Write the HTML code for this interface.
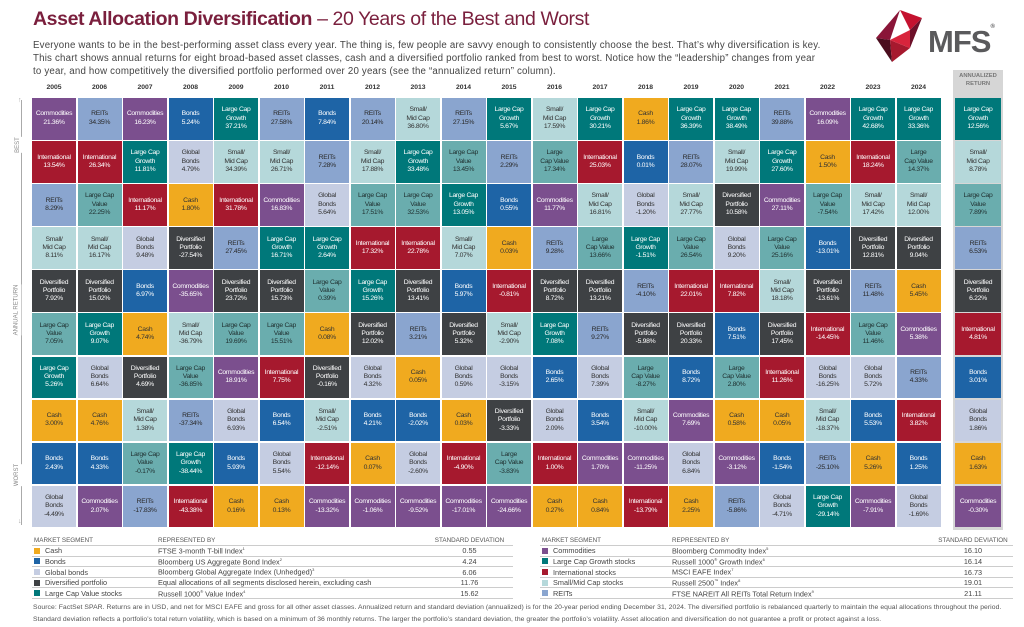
<!DOCTYPE html>
<html><head><meta charset="utf-8"><style>
*{margin:0;padding:0;box-sizing:border-box}
body{width:1024px;height:627px;background:#fff;position:relative;overflow:hidden;font-family:"Liberation Sans",sans-serif;color:#333}
.t{position:absolute;left:33px;top:8px;font-size:19.5px;color:#7a1f3d;letter-spacing:-0.4px}
.t b{font-weight:bold}
.intro{position:absolute;left:33px;top:39px;font-size:9.7px;line-height:13px;color:#444;letter-spacing:0.2px;white-space:nowrap}
.mfs{position:absolute;left:928px;top:24px;font-size:31px;font-weight:bold;color:#5a5a5c;letter-spacing:-1px}
.yr{position:absolute;top:84px;left:32px;display:grid;grid-template-columns:repeat(20,44px);column-gap:1.5px;font-size:6.8px;font-weight:bold;text-align:center;color:#333}
.g{position:absolute;left:32px;top:98px;display:grid;grid-template-columns:repeat(20,44px);grid-template-rows:repeat(10,41.5px);grid-auto-flow:column;gap:1.6px 1.5px}
.g i,.an i{font-style:normal;display:flex;align-items:center;justify-content:center;text-align:center;font-size:6.8px;line-height:8.3px;letter-spacing:-0.3px}
.cm{background:#7b4f8e;color:#fff}.re{background:#8aa5cf;color:#2a2a2a}.in{background:#a6192e;color:#fff}
.lg{background:#00787a;color:#fff}.lv{background:#6aadae;color:#1f2f2f}.gb{background:#c5cde2;color:#333}
.sm{background:#b5d8da;color:#333}.ca{background:#f0aa1f;color:#333}.bo{background:#1e64a6;color:#fff}.dv{background:#3e4144;color:#fff}
.anb{position:absolute;left:953px;top:70px;width:50px;height:460px;background:#d6d6d6}
.anh{position:absolute;left:953px;top:72px;width:50px;font-size:5.8px;font-weight:bold;text-align:center;color:#777;line-height:8px}
.an{position:absolute;left:955px;top:98px;display:grid;grid-template-columns:46px;grid-template-rows:repeat(10,41.5px);gap:1.6px}
.ax{position:absolute;left:21px;top:100px;width:1px;height:425px;background:#aaa}
.axl{position:absolute;font-size:6px;color:#888;transform:rotate(-90deg);transform-origin:center;background:#fff;padding:2px 0;white-space:nowrap}
.lt{position:absolute;top:535px;font-size:7.3px;color:#444;border-collapse:collapse}
.lt td{padding:0 2px;height:10.6px;border-bottom:0.6px solid #ccc;white-space:nowrap}
.lt tr:first-child td{font-size:6.3px;color:#555}
.lt td.v{text-align:center}
.sq{display:inline-block;width:6px;height:6px;margin-right:5px;vertical-align:-0.5px}
.fn{position:absolute;left:33px;top:602px;font-size:6.8px;line-height:12px;color:#555;letter-spacing:0.05px;white-space:nowrap}
</style></head><body>
<div class="t"><b>Asset Allocation Diversification</b> – 20 Years of the Best and Worst</div>
<div class="intro">Everyone wants to be in the best-performing asset class every year. The thing is, few people are savvy enough to consistently choose the best. That’s why diversification is key.<br>This chart shows annual returns for eight broad-based asset classes, cash and a diversified portfolio ranked from best to worst. Notice how the “leadership” changes from year<br>to year, and how competitively the diversified portfolio performed over 20 years (see the “annualized return” column).</div>
<svg style="position:absolute;left:870px;top:10px" width="56" height="52" viewBox="0 0 56 52"><polygon points="30,0 52,8 40,20" fill="#c4122f"/><polygon points="30,0 6,28 20,30" fill="#8a1538"/><polygon points="6,28 22,52 20,30" fill="#4a0d1e"/><polygon points="20,30 22,52 40,38" fill="#a6192e"/><polygon points="40,20 52,8 40,38" fill="#6d1029"/><polygon points="20,30 40,20 40,38" fill="#d8243c"/></svg>
<div class="mfs">MFS<span style="font-size:6px;vertical-align:top">®</span></div>
<div class="yr"><span>2005</span><span>2006</span><span>2007</span><span>2008</span><span>2009</span><span>2010</span><span>2011</span><span>2012</span><span>2013</span><span>2014</span><span>2015</span><span>2016</span><span>2017</span><span>2018</span><span>2019</span><span>2020</span><span>2021</span><span>2022</span><span>2023</span><span>2024</span></div>
<div class="ax"></div>
<div style="position:absolute;left:18px;top:97px;font-size:7px;color:#aaa">↑</div>
<div style="position:absolute;left:18px;top:518px;font-size:7px;color:#aaa">↓</div>
<div class="axl" style="left:10px;top:140px">BEST</div>
<div class="axl" style="left:-9px;top:305px">ANNUAL RETURN</div>
<div class="axl" style="left:6px;top:470px">WORST</div>
<div class="anb"></div>
<div class="anh">ANNUALIZED<br>RETURN</div>
<div class="g">
<i class="cm">Commodities<br>21.36%</i><i class="in">International<br>13.54%</i><i class="re">REITs<br>8.29%</i><i class="sm">Small/<br>Mid Cap<br>8.11%</i><i class="dv">Diversified<br>Portfolio<br>7.92%</i><i class="lv">Large Cap<br>Value<br>7.05%</i><i class="lg">Large Cap<br>Growth<br>5.26%</i><i class="ca">Cash<br>3.00%</i><i class="bo">Bonds<br>2.43%</i><i class="gb">Global<br>Bonds<br>-4.49%</i>
<i class="re">REITs<br>34.35%</i><i class="in">International<br>26.34%</i><i class="lv">Large Cap<br>Value<br>22.25%</i><i class="sm">Small/<br>Mid Cap<br>16.17%</i><i class="dv">Diversified<br>Portfolio<br>15.02%</i><i class="lg">Large Cap<br>Growth<br>9.07%</i><i class="gb">Global<br>Bonds<br>6.64%</i><i class="ca">Cash<br>4.76%</i><i class="bo">Bonds<br>4.33%</i><i class="cm">Commodities<br>2.07%</i>
<i class="cm">Commodities<br>16.23%</i><i class="lg">Large Cap<br>Growth<br>11.81%</i><i class="in">International<br>11.17%</i><i class="gb">Global<br>Bonds<br>9.48%</i><i class="bo">Bonds<br>6.97%</i><i class="ca">Cash<br>4.74%</i><i class="dv">Diversified<br>Portfolio<br>4.69%</i><i class="sm">Small/<br>Mid Cap<br>1.38%</i><i class="lv">Large Cap<br>Value<br>-0.17%</i><i class="re">REITs<br>-17.83%</i>
<i class="bo">Bonds<br>5.24%</i><i class="gb">Global<br>Bonds<br>4.79%</i><i class="ca">Cash<br>1.80%</i><i class="dv">Diversified<br>Portfolio<br>-27.54%</i><i class="cm">Commodities<br>-35.65%</i><i class="sm">Small/<br>Mid Cap<br>-36.79%</i><i class="lv">Large Cap<br>Value<br>-36.85%</i><i class="re">REITs<br>-37.34%</i><i class="lg">Large Cap<br>Growth<br>-38.44%</i><i class="in">International<br>-43.38%</i>
<i class="lg">Large Cap<br>Growth<br>37.21%</i><i class="sm">Small/<br>Mid Cap<br>34.39%</i><i class="in">International<br>31.78%</i><i class="re">REITs<br>27.45%</i><i class="dv">Diversified<br>Portfolio<br>23.72%</i><i class="lv">Large Cap<br>Value<br>19.69%</i><i class="cm">Commodities<br>18.91%</i><i class="gb">Global<br>Bonds<br>6.93%</i><i class="bo">Bonds<br>5.93%</i><i class="ca">Cash<br>0.16%</i>
<i class="re">REITs<br>27.58%</i><i class="sm">Small/<br>Mid Cap<br>26.71%</i><i class="cm">Commodities<br>16.83%</i><i class="lg">Large Cap<br>Growth<br>16.71%</i><i class="dv">Diversified<br>Portfolio<br>15.73%</i><i class="lv">Large Cap<br>Value<br>15.51%</i><i class="in">International<br>7.75%</i><i class="bo">Bonds<br>6.54%</i><i class="gb">Global<br>Bonds<br>5.54%</i><i class="ca">Cash<br>0.13%</i>
<i class="bo">Bonds<br>7.84%</i><i class="re">REITs<br>7.28%</i><i class="gb">Global<br>Bonds<br>5.64%</i><i class="lg">Large Cap<br>Growth<br>2.64%</i><i class="lv">Large Cap<br>Value<br>0.39%</i><i class="ca">Cash<br>0.08%</i><i class="dv">Diversified<br>Portfolio<br>-0.16%</i><i class="sm">Small/<br>Mid Cap<br>-2.51%</i><i class="in">International<br>-12.14%</i><i class="cm">Commodities<br>-13.32%</i>
<i class="re">REITs<br>20.14%</i><i class="sm">Small/<br>Mid Cap<br>17.88%</i><i class="lv">Large Cap<br>Value<br>17.51%</i><i class="in">International<br>17.32%</i><i class="lg">Large Cap<br>Growth<br>15.26%</i><i class="dv">Diversified<br>Portfolio<br>12.02%</i><i class="gb">Global<br>Bonds<br>4.32%</i><i class="bo">Bonds<br>4.21%</i><i class="ca">Cash<br>0.07%</i><i class="cm">Commodities<br>-1.06%</i>
<i class="sm">Small/<br>Mid Cap<br>36.80%</i><i class="lg">Large Cap<br>Growth<br>33.48%</i><i class="lv">Large Cap<br>Value<br>32.53%</i><i class="in">International<br>22.78%</i><i class="dv">Diversified<br>Portfolio<br>13.41%</i><i class="re">REITs<br>3.21%</i><i class="ca">Cash<br>0.05%</i><i class="bo">Bonds<br>-2.02%</i><i class="gb">Global<br>Bonds<br>-2.60%</i><i class="cm">Commodities<br>-9.52%</i>
<i class="re">REITs<br>27.15%</i><i class="lv">Large Cap<br>Value<br>13.45%</i><i class="lg">Large Cap<br>Growth<br>13.05%</i><i class="sm">Small/<br>Mid Cap<br>7.07%</i><i class="bo">Bonds<br>5.97%</i><i class="dv">Diversified<br>Portfolio<br>5.32%</i><i class="gb">Global<br>Bonds<br>0.59%</i><i class="ca">Cash<br>0.03%</i><i class="in">International<br>-4.90%</i><i class="cm">Commodities<br>-17.01%</i>
<i class="lg">Large Cap<br>Growth<br>5.67%</i><i class="re">REITs<br>2.29%</i><i class="bo">Bonds<br>0.55%</i><i class="ca">Cash<br>0.03%</i><i class="in">International<br>-0.81%</i><i class="sm">Small/<br>Mid Cap<br>-2.90%</i><i class="gb">Global<br>Bonds<br>-3.15%</i><i class="dv">Diversified<br>Portfolio<br>-3.33%</i><i class="lv">Large<br>Cap Value<br>-3.83%</i><i class="cm">Commodities<br>-24.66%</i>
<i class="sm">Small/<br>Mid Cap<br>17.59%</i><i class="lv">Large<br>Cap Value<br>17.34%</i><i class="cm">Commodities<br>11.77%</i><i class="re">REITs<br>9.28%</i><i class="dv">Diversified<br>Portfolio<br>8.72%</i><i class="lg">Large Cap<br>Growth<br>7.08%</i><i class="bo">Bonds<br>2.65%</i><i class="gb">Global<br>Bonds<br>2.09%</i><i class="in">International<br>1.00%</i><i class="ca">Cash<br>0.27%</i>
<i class="lg">Large Cap<br>Growth<br>30.21%</i><i class="in">International<br>25.03%</i><i class="sm">Small/<br>Mid Cap<br>16.81%</i><i class="lv">Large<br>Cap Value<br>13.66%</i><i class="dv">Diversified<br>Portfolio<br>13.21%</i><i class="re">REITs<br>9.27%</i><i class="gb">Global<br>Bonds<br>7.39%</i><i class="bo">Bonds<br>3.54%</i><i class="cm">Commodities<br>1.70%</i><i class="ca">Cash<br>0.84%</i>
<i class="ca">Cash<br>1.86%</i><i class="bo">Bonds<br>0.01%</i><i class="gb">Global<br>Bonds<br>-1.20%</i><i class="lg">Large Cap<br>Growth<br>-1.51%</i><i class="re">REITs<br>-4.10%</i><i class="dv">Diversified<br>Portfolio<br>-5.98%</i><i class="lv">Large<br>Cap Value<br>-8.27%</i><i class="sm">Small/<br>Mid Cap<br>-10.00%</i><i class="cm">Commodities<br>-11.25%</i><i class="in">International<br>-13.79%</i>
<i class="lg">Large Cap<br>Growth<br>36.39%</i><i class="re">REITs<br>28.07%</i><i class="sm">Small/<br>Mid Cap<br>27.77%</i><i class="lv">Large Cap<br>Value<br>26.54%</i><i class="in">International<br>22.01%</i><i class="dv">Diversified<br>Portfolio<br>20.33%</i><i class="bo">Bonds<br>8.72%</i><i class="cm">Commodities<br>7.69%</i><i class="gb">Global<br>Bonds<br>6.84%</i><i class="ca">Cash<br>2.25%</i>
<i class="lg">Large Cap<br>Growth<br>38.49%</i><i class="sm">Small/<br>Mid Cap<br>19.99%</i><i class="dv">Diversified<br>Portfolio<br>10.58%</i><i class="gb">Global<br>Bonds<br>9.20%</i><i class="in">International<br>7.82%</i><i class="bo">Bonds<br>7.51%</i><i class="lv">Large<br>Cap Value<br>2.80%</i><i class="ca">Cash<br>0.58%</i><i class="cm">Commodities<br>-3.12%</i><i class="re">REITs<br>-5.86%</i>
<i class="re">REITs<br>39.88%</i><i class="lg">Large Cap<br>Growth<br>27.60%</i><i class="cm">Commodities<br>27.11%</i><i class="lv">Large Cap<br>Value<br>25.16%</i><i class="sm">Small/<br>Mid Cap<br>18.18%</i><i class="dv">Diversified<br>Portfolio<br>17.45%</i><i class="in">International<br>11.26%</i><i class="ca">Cash<br>0.05%</i><i class="bo">Bonds<br>-1.54%</i><i class="gb">Global<br>Bonds<br>-4.71%</i>
<i class="cm">Commodities<br>16.09%</i><i class="ca">Cash<br>1.50%</i><i class="lv">Large Cap<br>Value<br>-7.54%</i><i class="bo">Bonds<br>-13.01%</i><i class="dv">Diversified<br>Portfolio<br>-13.61%</i><i class="in">International<br>-14.45%</i><i class="gb">Global<br>Bonds<br>-16.25%</i><i class="sm">Small/<br>Mid Cap<br>-18.37%</i><i class="re">REITs<br>-25.10%</i><i class="lg">Large Cap<br>Growth<br>-29.14%</i>
<i class="lg">Large Cap<br>Growth<br>42.68%</i><i class="in">International<br>18.24%</i><i class="sm">Small/<br>Mid Cap<br>17.42%</i><i class="dv">Diversified<br>Portfolio<br>12.81%</i><i class="re">REITs<br>11.48%</i><i class="lv">Large Cap<br>Value<br>11.46%</i><i class="gb">Global<br>Bonds<br>5.72%</i><i class="bo">Bonds<br>5.53%</i><i class="ca">Cash<br>5.26%</i><i class="cm">Commodities<br>-7.91%</i>
<i class="lg">Large Cap<br>Growth<br>33.36%</i><i class="lv">Large<br>Cap Value<br>14.37%</i><i class="sm">Small/<br>Mid Cap<br>12.00%</i><i class="dv">Diversified<br>Portfolio<br>9.04%</i><i class="ca">Cash<br>5.45%</i><i class="cm">Commodities<br>5.38%</i><i class="re">REITs<br>4.33%</i><i class="in">International<br>3.82%</i><i class="bo">Bonds<br>1.25%</i><i class="gb">Global<br>Bonds<br>-1.69%</i>
</div>
<div class="an">
<i class="lg">Large Cap<br>Growth<br>12.56%</i><i class="sm">Small/<br>Mid Cap<br>8.78%</i><i class="lv">Large Cap<br>Value<br>7.89%</i><i class="re">REITs<br>6.53%</i><i class="dv">Diversified<br>Portfolio<br>6.22%</i><i class="in">International<br>4.81%</i><i class="bo">Bonds<br>3.01%</i><i class="gb">Global<br>Bonds<br>1.86%</i><i class="ca">Cash<br>1.63%</i><i class="cm">Commodities<br>-0.30%</i>
</div>
<table class="lt" style="left:32px;width:481px">
<tr><td style="width:124px">MARKET SEGMENT</td><td style="width:270px">REPRESENTED BY</td><td class="v">STANDARD DEVIATION</td></tr>
<tr><td><span class="sq ca"></span>Cash</td><td>FTSE 3-month T-bill Index<sup style="font-size:4px">1</sup></td><td class="v">0.55</td></tr>
<tr><td><span class="sq bo"></span>Bonds</td><td>Bloomberg US Aggregate Bond Index<sup style="font-size:4px">2</sup></td><td class="v">4.24</td></tr>
<tr><td><span class="sq gb"></span>Global bonds</td><td>Bloomberg Global Aggregate Index (Unhedged)<sup style="font-size:4px">3</sup></td><td class="v">6.06</td></tr>
<tr><td><span class="sq dv"></span>Diversified portfolio</td><td>Equal allocations of all segments disclosed herein, excluding cash</td><td class="v">11.76</td></tr>
<tr><td><span class="sq lg" style="background:#00787a"></span>Large Cap Value stocks</td><td>Russell 1000<sup style="font-size:4px">®</sup> Value Index<sup style="font-size:4px">4</sup></td><td class="v">15.62</td></tr>
</table>
<table class="lt" style="left:540px;width:473px">
<tr><td style="width:130px">MARKET SEGMENT</td><td style="width:263px">REPRESENTED BY</td><td class="v">STANDARD DEVIATION</td></tr>
<tr><td><span class="sq cm"></span>Commodities</td><td>Bloomberg Commodity Index<sup style="font-size:4px">5</sup></td><td class="v">16.10</td></tr>
<tr><td><span class="sq lg"></span>Large Cap Growth stocks</td><td>Russell 1000<sup style="font-size:4px">®</sup> Growth Index<sup style="font-size:4px">6</sup></td><td class="v">16.14</td></tr>
<tr><td><span class="sq in"></span>International stocks</td><td>MSCI EAFE Index<sup style="font-size:4px">7</sup></td><td class="v">16.73</td></tr>
<tr><td><span class="sq sm"></span>Small/Mid Cap stocks</td><td>Russell 2500<sup style="font-size:4px">™</sup> Index<sup style="font-size:4px">8</sup></td><td class="v">19.01</td></tr>
<tr><td><span class="sq re"></span>REITs</td><td>FTSE NAREIT All REITs Total Return Index<sup style="font-size:4px">9</sup></td><td class="v">21.11</td></tr>
</table>
<div class="fn">Source: FactSet SPAR. Returns are in USD, and net for MSCI EAFE and gross for all other asset classes. Annualized return and standard deviation (annualized) is for the 20-year period ending December 31, 2024. The diversified portfolio is rebalanced quarterly to maintain the equal allocations throughout the period.<br>Standard deviation reflects a portfolio’s total return volatility, which is based on a minimum of 36 monthly returns. The larger the portfolio’s standard deviation, the greater the portfolio’s volatility. Asset allocation and diversification do not guarantee a profit or protect against a loss.</div>
</body></html>
